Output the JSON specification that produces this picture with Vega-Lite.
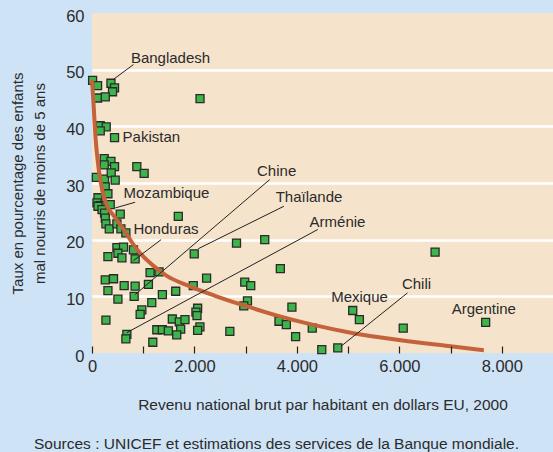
{
  "$schema": "https://vega.github.io/schema/vega-lite/v6.json",
  "width": 461,
  "height": 340,
  "autosize": {"type": "none"},
  "padding": {"left": 92, "top": 13, "right": 0, "bottom": 99},
  "background": "#cfe3f6",
  "config": {"view": {"fill": "#f5e3cc", "stroke": null}, "font": "Liberation Sans"},
  "title": {"text": "Sources : UNICEF et estimations des services de la Banque mondiale.", "orient": "bottom", "anchor": "middle", "frame": "group", "dx": -46, "offset": 24, "fontSize": 15.5, "fontWeight": "normal", "color": "#2b2b2b", "font": "Liberation Sans"},
  "datasets": {
    "points": [
      {"x": 12, "y": 48.1}, {"x": 109, "y": 47.2}, {"x": 370, "y": 47.6}, {"x": 440, "y": 46.8}, {"x": 401, "y": 46.1},
      {"x": 109, "y": 45.0}, {"x": 259, "y": 45.2}, {"x": 2109, "y": 44.9}, {"x": 161, "y": 40.1}, {"x": 278, "y": 39.9},
      {"x": 161, "y": 39.2}, {"x": 440, "y": 38.0}, {"x": 239, "y": 34.3}, {"x": 370, "y": 33.8}, {"x": 239, "y": 33.2},
      {"x": 440, "y": 32.9}, {"x": 875, "y": 32.9}, {"x": 1018, "y": 31.7}, {"x": 84, "y": 31.0}, {"x": 245, "y": 30.7},
      {"x": 375, "y": 31.8}, {"x": 453, "y": 30.5}, {"x": 259, "y": 29.3}, {"x": 311, "y": 28.1}, {"x": 117, "y": 27.4},
      {"x": 97, "y": 26.5}, {"x": 161, "y": 26.0}, {"x": 356, "y": 26.2}, {"x": 117, "y": 25.9}, {"x": 195, "y": 25.3},
      {"x": 245, "y": 24.7}, {"x": 259, "y": 23.8}, {"x": 551, "y": 24.5}, {"x": 272, "y": 22.8}, {"x": 337, "y": 21.9},
      {"x": 486, "y": 22.8}, {"x": 564, "y": 21.9}, {"x": 661, "y": 21.2}, {"x": 486, "y": 18.6}, {"x": 615, "y": 18.7},
      {"x": 311, "y": 17.0}, {"x": 506, "y": 17.6}, {"x": 584, "y": 16.8}, {"x": 809, "y": 18.2}, {"x": 842, "y": 16.6},
      {"x": 259, "y": 12.9}, {"x": 420, "y": 13.1}, {"x": 311, "y": 11.0}, {"x": 628, "y": 11.9}, {"x": 823, "y": 10.0},
      {"x": 842, "y": 11.8}, {"x": 1134, "y": 14.2}, {"x": 1101, "y": 12.1}, {"x": 1309, "y": 14.3}, {"x": 1374, "y": 10.3},
      {"x": 506, "y": 9.5}, {"x": 1167, "y": 8.9}, {"x": 973, "y": 7.6}, {"x": 940, "y": 6.8}, {"x": 272, "y": 5.8},
      {"x": 1265, "y": 4.1}, {"x": 1374, "y": 4.1}, {"x": 681, "y": 3.3}, {"x": 661, "y": 2.5}, {"x": 1187, "y": 1.9},
      {"x": 1685, "y": 24.1}, {"x": 1996, "y": 17.5}, {"x": 2821, "y": 19.4}, {"x": 3372, "y": 20.0}, {"x": 3677, "y": 14.9},
      {"x": 2237, "y": 13.2}, {"x": 1977, "y": 11.9}, {"x": 1634, "y": 10.9}, {"x": 2982, "y": 12.5}, {"x": 3099, "y": 11.9},
      {"x": 3035, "y": 9.2}, {"x": 2963, "y": 8.3}, {"x": 2062, "y": 7.9}, {"x": 2029, "y": 7.2}, {"x": 2050, "y": 6.6},
      {"x": 3903, "y": 8.1}, {"x": 3650, "y": 5.6}, {"x": 3794, "y": 5.0}, {"x": 3975, "y": 2.9}, {"x": 1568, "y": 6.0},
      {"x": 1704, "y": 5.5}, {"x": 1815, "y": 5.9}, {"x": 1490, "y": 3.9}, {"x": 1731, "y": 4.2}, {"x": 1654, "y": 3.2},
      {"x": 2107, "y": 4.6}, {"x": 2062, "y": 4.0}, {"x": 2691, "y": 3.8}, {"x": 4300, "y": 4.4}, {"x": 4486, "y": 0.6},
      {"x": 4798, "y": 0.9}, {"x": 5090, "y": 7.5}, {"x": 5220, "y": 5.9}, {"x": 6076, "y": 4.4}, {"x": 6698, "y": 17.8},
      {"x": 7685, "y": 5.4}
    ],
    "curve": [
      {"x": 0, "y": 48.2}, {"x": 30, "y": 44.0}, {"x": 65, "y": 38.5}, {"x": 130, "y": 32.5}, {"x": 220, "y": 28.0},
      {"x": 300, "y": 25.8}, {"x": 420, "y": 24.3}, {"x": 615, "y": 21.8}, {"x": 875, "y": 18.3}, {"x": 1170, "y": 15.6},
      {"x": 1460, "y": 13.6}, {"x": 1900, "y": 11.8}, {"x": 2400, "y": 10.1}, {"x": 3000, "y": 8.3}, {"x": 3650, "y": 6.5},
      {"x": 4300, "y": 5.0}, {"x": 5100, "y": 3.5}, {"x": 6000, "y": 2.3}, {"x": 7000, "y": 1.2}, {"x": 7650, "y": 0.5}
    ],
    "labels": [
      {"label": "Bangladesh", "x": 759, "y": 52.1},
      {"label": "Pakistan", "x": 596, "y": 38.1},
      {"label": "Mozambique", "x": 615, "y": 28.3},
      {"label": "Honduras", "x": 809, "y": 21.8},
      {"label": "Chine", "x": 3222, "y": 32.2},
      {"label": "Thaïlande", "x": 3586, "y": 27.5},
      {"label": "Arménie", "x": 4247, "y": 23.1},
      {"label": "Mexique", "x": 4669, "y": 9.9},
      {"label": "Chili", "x": 6051, "y": 12.1},
      {"label": "Argentine", "x": 7023, "y": 7.8}
    ],
    "leaders": [
      {"x": 809, "y": 50.9, "x2": 420, "y2": 48.3},
      {"x": 842, "y": 26.6, "x2": 453, "y2": 25.6},
      {"x": 1348, "y": 20.0, "x2": 809, "y2": 16.3},
      {"x": 3469, "y": 30.6, "x2": 842, "y2": 10.3},
      {"x": 3747, "y": 25.9, "x2": 2074, "y2": 18.4},
      {"x": 4409, "y": 21.8, "x2": 681, "y2": 3.6},
      {"x": 6159, "y": 10.6, "x2": 4864, "y2": 1.2}
    ]
  },
  "encoding": {
    "x": {
      "field": "x", "type": "quantitative",
      "scale": {"domain": [0, 9000], "nice": false, "zero": false},
      "axis": {
        "values": [0, 1000, 2000, 3000, 4000, 5000, 6000, 7000, 8000],
        "zindex": 1, "offset": -7,
        "domain": false, "grid": false, "ticks": true, "tickSize": 7, "tickColor": "#222222", "tickWidth": 1.2,
        "labelExpr": "datum.value % 2000 == 0 ? replace(format(datum.value, ','), ',', '.') : ''",
        "labelFlush": false, "labelOverlap": false,
        "labelFontSize": 16.5, "labelColor": "#2b2b2b", "labelPadding": 5, "labelFont": "Liberation Sans",
        "title": "Revenu national brut par habitant en dollars EU, 2000",
        "titleFontSize": 15.5, "titleFontWeight": "normal", "titleColor": "#2b2b2b", "titleFont": "Liberation Sans",
        "titleY": 58, "titleBaseline": "middle"
      }
    },
    "y": {
      "field": "y", "type": "quantitative",
      "scale": {"domain": [0, 60], "nice": false},
      "axis": {
        "values": [0, 10, 20, 30, 40, 50, 60],
        "domain": false, "ticks": false, "grid": true, "gridColor": "#ffffff", "gridWidth": 2.5,
        "gridOpacity": {"condition": {"test": "datum.value == 0 || datum.value == 60", "value": 0}, "value": 1},
        "labelFontSize": 16.5, "labelColor": "#2b2b2b", "labelPadding": 8, "labelOffset": 3, "labelFont": "Liberation Sans",
        "title": ["Taux en pourcentage des enfants", "mal nourris de moins de 5 ans"],
        "titleFontSize": 15, "titleFontWeight": "normal", "titleColor": "#2b2b2b", "titleFont": "Liberation Sans",
        "titleX": -75, "titleY": 170, "titleAngle": -90, "titleAlign": "center", "titleBaseline": "middle", "titleLineHeight": 22
      }
    }
  },
  "layer": [
    {
      "data": {"name": "points"},
      "mark": {"type": "square", "size": 64, "filled": true, "color": "#3db54a", "stroke": "#2a2a2a", "strokeWidth": 1.3, "opacity": 1}
    },
    {
      "data": {"name": "curve"},
      "mark": {"type": "line", "color": "#c4633b", "strokeWidth": 4, "interpolate": "monotone"}
    },
    {
      "data": {"name": "leaders"},
      "mark": {"type": "rule", "color": "#222222", "strokeWidth": 1},
      "encoding": {"x2": {"field": "x2"}, "y2": {"field": "y2"}}
    },
    {
      "data": {"name": "labels"},
      "mark": {"type": "text", "align": "left", "baseline": "middle", "fontSize": 15, "color": "#2b2b2b", "font": "Liberation Sans"},
      "encoding": {"text": {"field": "label"}}
    }
  ]
}
